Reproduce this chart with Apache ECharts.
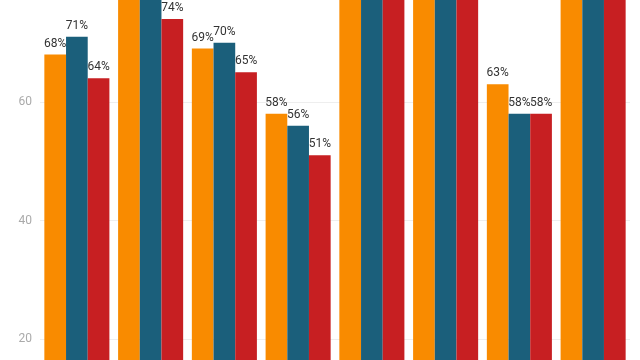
<!DOCTYPE html>
<html><head><meta charset="utf-8">
<script src="https://cdn.jsdelivr.net/npm/echarts@6/dist/echarts.min.js"></script>
<style>html,body{margin:0;padding:0;overflow:hidden;background:#fff;width:640px;height:360px;position:relative}#c{position:absolute;left:0;top:-30px;width:640px;height:500px}</style>
</head><body><div id="c"></div>
<script>
const categories = ['A','B','C','D','E','F','G','H'];
const seriesA = [68, 82, 69, 58, 85, 88, 63, 90];
const seriesB = [71, 80, 70, 56, 84, 86, 58, 87];
const seriesC = [64, 74, 65, 51, 83, 82, 58, 85];
const yTicks = [0, 20, 40, 60, 80];
const colors = ['#F98B00', '#1B5F7B', '#C71F22'];

const chart = echarts.init(document.getElementById('c'), null, {renderer:'canvas'});
const mk = (name, data, color) => ({
  name, type:'bar', data, barGap:'0%', barCategoryGap:'11.8%',
  itemStyle:{color},
  label:{show:true, position:'top', distance:5, formatter:'{c}%', color:'#333',
         fontFamily:'Roboto', fontSize:12}
});
chart.setOption({
  animation:false,
  grid:{left:40, right:10, top:13.4, bottom:12.4, containLabel:false},
  xAxis:{type:'category', data:categories, axisLine:{show:false}, axisTick:{show:false}, axisLabel:{show:false}},
  yAxis:{type:'value', min:yTicks[0], max:yTicks[yTicks.length-1], interval:20,
    axisLine:{show:false}, axisTick:{show:false},
    axisLabel:{color:'#aaa', fontFamily:'Roboto', fontSize:12, margin:8},
    splitLine:{lineStyle:{color:'#eee'}}},
  series:[mk('A', seriesA, colors[0]), mk('B', seriesB, colors[1]), mk('C', seriesC, colors[2])]
});
</script></body></html>
